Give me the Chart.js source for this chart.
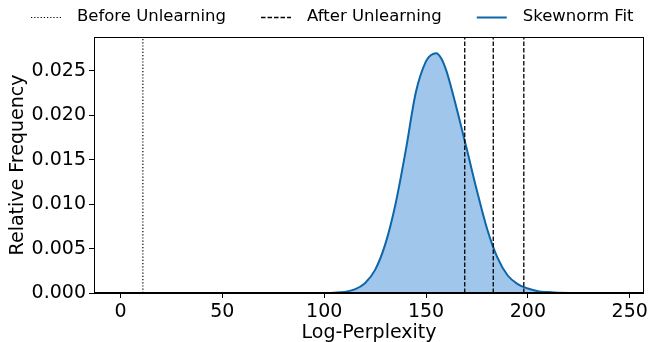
<!DOCTYPE html>
<html>
<head>
<meta charset="utf-8">
<script src="https://cdn.jsdelivr.net/npm/chart.js@4/dist/chart.umd.min.js"></script>
<style>
  html, body { margin: 0; padding: 0; background: #fff; }
  #wrap { width: 651px; height: 342px; position: relative; }
</style>
</head>
<body>
<div id="wrap"><canvas id="c" width="651" height="342"></canvas></div>
<script>
// ---- data ----
const logPerplexity = [0, 95, 100, 105, 110, 115, 120, 125, 130, 135, 140, 145, 150, 152.5, 155, 157.5, 160, 165, 170, 175, 180, 185, 190, 195, 200, 205, 210, 215, 220, 244];
const fitDensity    = [0, 0, 0.00001, 0.00004, 0.00012, 0.0004, 0.0011, 0.0026, 0.0055, 0.0100, 0.0160, 0.0226, 0.0261, 0.0268, 0.0270, 0.0264, 0.0250, 0.0208, 0.0162, 0.0115, 0.0072, 0.0040, 0.0020, 0.0010, 0.0005, 0.0002, 0.0001, 0.00003, 0.00001, 0];
const beforeUnlearning = [11];
const afterUnlearning  = [169, 183, 198];
const xTicks = [0, 50, 100, 150, 200, 250];
const yTicks = [0, 0.005, 0.010, 0.015, 0.020, 0.025];
const seriesNames = ['Before Unlearning', 'After Unlearning', 'Skewnorm Fit'];

const X_MIN = -13, X_MAX = 257, Y_MIN = 0, Y_MAX = 0.02882;
const FONT = "'DejaVu Sans', sans-serif";
const LINE_BLUE = '#0d66a8';
const FILL_BLUE = 'rgba(160,198,236,1)';

const fitPoints = logPerplexity.map((x, i) => ({ x: x, y: fitDensity[i] }));
function vline(x) { return [{ x: x, y: Y_MIN }, { x: x, y: Y_MAX }]; }

const datasets = [];
beforeUnlearning.forEach(v => datasets.push({
  label: seriesNames[0], data: vline(v), borderColor: '#000', borderWidth: 1.2,
  borderDash: [1.2, 2], pointRadius: 0, fill: false, order: 1
}));
afterUnlearning.forEach(v => datasets.push({
  label: seriesNames[1], data: vline(v), borderColor: '#000', borderWidth: 1.3,
  borderDash: [4.5, 2], pointRadius: 0, fill: false, order: 1
}));
datasets.push({
  label: seriesNames[2], data: fitPoints, borderColor: LINE_BLUE, borderWidth: 2,
  backgroundColor: FILL_BLUE, fill: 'origin', pointRadius: 0,
  cubicInterpolationMode: 'monotone', order: 3
});

const legendItems = [
  { text: seriesNames[0], dash: [1.2, 2], color: '#000', width: 1.2 },
  { text: seriesNames[1], dash: [4.5, 2], color: '#000', width: 1.3 },
  { text: seriesNames[2], dash: [], color: LINE_BLUE, width: 2 }
];

const framePlugin = {
  id: 'frame',
  afterDraw(chart) {
    const { ctx, chartArea: a } = chart;
    ctx.save();
    ctx.strokeStyle = '#000';
    ctx.lineWidth = 1;
    const l = Math.round(a.left) + 0.5, r = Math.round(a.right) - 0.5;
    const t = Math.round(a.top) + 0.5, b = Math.round(a.bottom) - 0.5;
    ctx.strokeRect(l, t, r - l, b - t);
    // legend
    ctx.font = "16.5px " + FONT;
    ctx.textBaseline = 'middle';
    ctx.fillStyle = '#000';
    const sampleLen = 30, gap = 16, itemGap = 35, y = 17;
    let x = 31;
    legendItems.forEach(it => {
      ctx.beginPath();
      ctx.setLineDash(it.dash);
      ctx.strokeStyle = it.color;
      ctx.lineWidth = it.width;
      ctx.moveTo(x, y + 0.5);
      ctx.lineTo(x + sampleLen, y + 0.5);
      ctx.stroke();
      ctx.setLineDash([]);
      ctx.fillText(it.text, x + sampleLen + gap, y);
      x += sampleLen + gap + ctx.measureText(it.text).width + itemGap;
    });
    ctx.restore();
  }
};

new Chart(document.getElementById('c'), {
  type: 'line',
  data: { datasets },
  options: {
    responsive: false,
    animation: false,
    devicePixelRatio: 1,
    layout: { padding: { top: 37, right: 5, left: 0, bottom: 0 } },
    plugins: { legend: { display: false }, tooltip: { enabled: false } },
    scales: {
      x: {
        type: 'linear', min: X_MIN, max: X_MAX,
        afterBuildTicks(s) { s.ticks = xTicks.map(v => ({ value: v })); },
        afterFit(s) { s.height = 49; },
        ticks: { color: '#000', font: { family: FONT, size: 19 }, padding: 3, maxRotation: 0,
                 callback: v => String(v) },
        grid: { drawOnChartArea: false, tickLength: 5, color: '#000', tickWidth: 1 },
        border: { color: '#000', width: 1 },
        title: { display: true, text: 'Log-Perplexity', color: '#000',
                 font: { family: FONT, size: 19 }, padding: { top: 0, bottom: -2 } }
      },
      y: {
        type: 'linear', min: Y_MIN, max: Y_MAX,
        afterBuildTicks(s) { s.ticks = yTicks.map(v => ({ value: v })); },
        afterFit(s) { s.width = 94; },
        ticks: { color: '#000', font: { family: FONT, size: 19 }, padding: 3,
                 callback: v => Number(v).toFixed(3) },
        grid: { drawOnChartArea: false, tickLength: 5, color: '#000', tickWidth: 1 },
        border: { color: '#000', width: 1 },
        title: { display: true, text: 'Relative Frequency', color: '#000',
                 font: { family: FONT, size: 19 }, padding: { top: 7, bottom: 0 } }
      }
    }
  },
  plugins: [framePlugin]
});
</script>
</body>
</html>
